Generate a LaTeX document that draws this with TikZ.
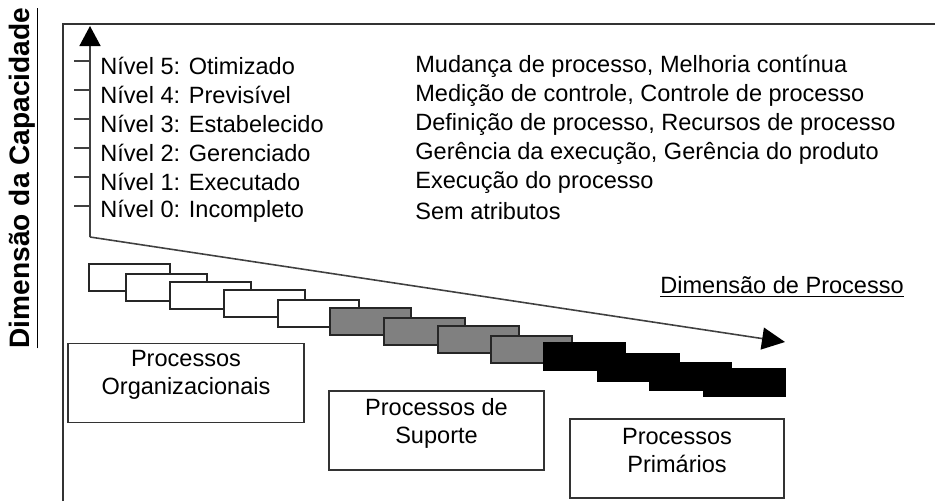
\documentclass[tikz,border=0pt]{standalone}
\usepackage{fontspec}
\setmainfont{Liberation Sans}
\usetikzlibrary{arrows.meta}

\newcommand{\lblfont}{\fontsize{13.4}{16}\selectfont}

\tikzset{
  lvltext/.style={anchor=west, inner sep=0pt, font=\lblfont},
  stepbox/.style={draw=black!85, line width=1.1pt, anchor=north west, inner sep=0pt,
                  minimum width=1.62cm, minimum height=0.54cm},
  procbox/.style={draw=black!80, line width=1.1pt, inner sep=0pt, minimum height=1.58cm},
  proctext/.style={align=center, inner sep=0pt, font=\lblfont},
  axisline/.style={draw=black!75, line width=0.9pt},
}

\begin{document}
\begin{tikzpicture}[x=0.02cm,y=-0.02cm]
\useasboundingbox (0,0) rectangle (935,501);

% frame
\draw[black!80, line width=1.1pt] (63,501) -- (63,24) -- (935,24);

% capability axis
\coordinate (origin) at (90,237);
\coordinate (captop) at (90,26);
\coordinate (procend) at (785,342);
\draw[axisline, -{Triangle[length=0.4cm,width=0.42cm,color=black]}] (origin) -- (captop);
\draw[axisline, -{Triangle[length=0.46cm,width=0.44cm,color=black]}] (origin) -- (procend);

\node[rotate=90, inner sep=0pt, font=\fontsize{16}{19}\selectfont\bfseries] (capdim) at (24,178) {\underline{Dimensão da Capacidade}};
\node[lvltext] (procdim) at (660,287) {\underline{Dimensão de Processo}};

% levels and attributes
\foreach \n/\lname/\attr [count=\k from 0] in {
    5/Otimizado/{Mudança de processo, Melhoria contínua},
    4/Previsível/{Medição de controle, Controle de processo},
    3/Estabelecido/{Definição de processo, Recursos de processo},
    2/Gerenciado/{Gerência da execução, Gerência do produto},
    1/Executado/{Execução do processo},
    0/Incompleto/{Sem atributos}}{
  \draw[black!75, line width=0.9pt] (74,{61+29*\k}) -- (90,{61+29*\k});
  \node[lvltext] (lvl\n) at (100,{66+29*\k}) {Nível \n: \lname};
  \node[lvltext] (attr\n) at (415,{66+29*\k}) {\attr};
}

% process steps
\foreach \x/\y/\c/\d [count=\i] in {88/263/white/black!85, 125/273/white/black!85,
    169/281/white/black!85, 223/289/white/black!85, 277/299/white/black!85,
    329/307/black!50/black!85, 383/317/black!50/black!85, 437/325/black!50/black!85,
    490/335/black!50/black!85, 543/342/black/black, 597/353/black/black,
    649/362/black/black, 703/368/black/black}
  \node[stepbox, fill=\c, draw=\d] (s\i) at (\x,\y) {};

% process groups
\node[procbox, minimum width=4.72cm] (org) at (186,383) {};
\node[proctext] (orgtxt) at ([yshift=0.16cm]org.center) {Processos\\Organizacionais};

\node[procbox, minimum width=4.3cm] (sup) at (436.5,430.5) {};
\node[proctext] (suptxt) at ([yshift=0.14cm]sup.center) {Processos de\\Suporte};

\node[procbox, minimum width=4.28cm] (prim) at (677,458.5) {};
\node[proctext] (primtxt) at ([yshift=0.16cm]prim.center) {Processos\\Primários};

\end{tikzpicture}
\end{document}
